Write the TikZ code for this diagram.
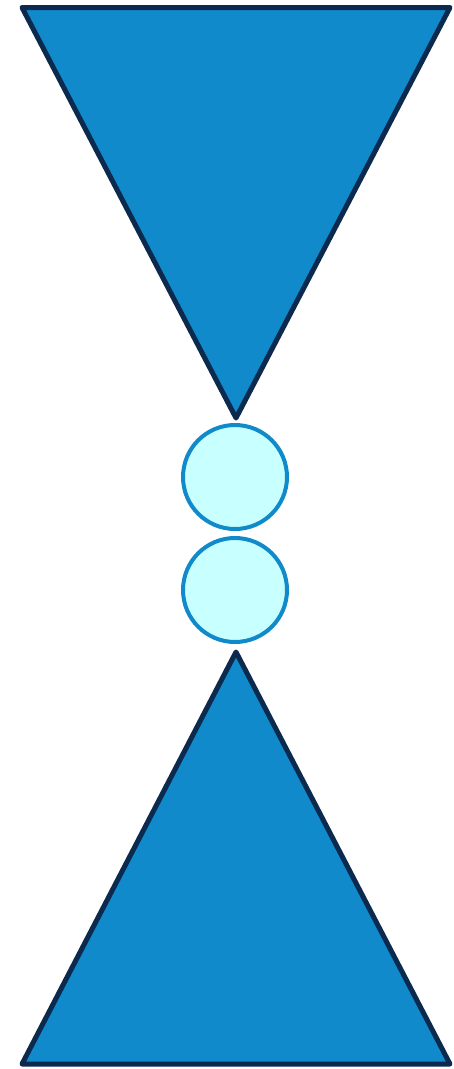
\documentclass[tikz,border=0pt]{standalone}
\usetikzlibrary{positioning}
\definecolor{cfill}{HTML}{118ACB}
\definecolor{cnavy}{HTML}{0B2A4E}
\definecolor{cpale}{HTML}{C8FFFF}
\tikzset{
  every picture/.style={x=1pt, y=-1pt},
  cone/.style={draw=cnavy, fill=cfill, line width=5pt, line join=round},
  ball/.style={circle, draw=cfill, fill=cpale, line width=4pt, minimum size=104pt, inner sep=0pt},
}
\begin{document}
\begin{tikzpicture}
  \useasboundingbox (0,0) rectangle (454,1069);
  % upper cone
  \draw[cone] (22,7.5) -- (450,7.5) -- (236,418) -- cycle;
  % two balls
  \node[ball] (b1) at (235,477) {};
  \node[ball, below=5pt of b1] (b2) {};
  % lower cone
  \draw[cone] (236,652) -- (450,1064) -- (22,1064) -- cycle;
\end{tikzpicture}
\end{document}
